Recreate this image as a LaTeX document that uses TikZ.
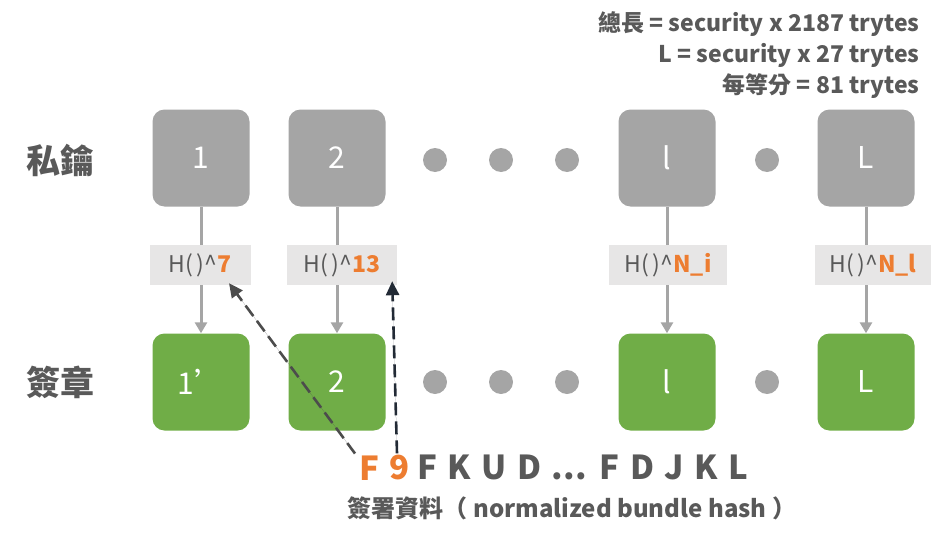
\documentclass[tikz,border=0pt]{standalone}
\usepackage{fontspec}
\setmainfont{Noto Sans CJK TC}
\usetikzlibrary{arrows.meta}
\definecolor{keygray}{HTML}{A5A5A5}
\definecolor{siggreen}{HTML}{70AD47}
\definecolor{txtgray}{HTML}{595959}
\definecolor{hashorange}{HTML}{ED7D31}
\definecolor{hashbg}{HTML}{E7E6E6}
\definecolor{navy}{HTML}{222A35}
\newcommand\KeyColumn[7]{
  \node[keybox] (key#1) at (#2,158) {#3};
  \node[sigbox] (sig#1) at (#2,382) {#4};
  \node[hashbox,minimum width=#7] (hash#1) at (#5,265) {H(\,)\textasciicircum{\color{hashorange}\bfseries #6}};
  \draw[flow] (key#1.south) -- (key#1.south |- hash#1.north);
  \draw[flow,-{Triangle[length=11pt,width=12pt]}] (hash#1.south -| key#1.south) -- (sig#1.north);
}
\tikzset{
  keybox/.style={rectangle,rounded corners=12pt,fill=keygray,text=white,minimum size=97pt,inner sep=0pt,font=\fontsize{30}{30}\selectfont},
  sigbox/.style={keybox,fill=siggreen},
  hashbox/.style={rectangle,fill=hashbg,text=txtgray,minimum height=40pt,inner xsep=8pt,font=\fontsize{23}{23}\selectfont},
  flow/.style={draw=keygray,line width=3pt},
  dot/.style={circle,fill=keygray,minimum size=24pt,inner sep=0pt},
  rowlabel/.style={text=txtgray,font=\fontsize{34}{34}\selectfont\bfseries},
  hashchar/.style={text=hashorange,inner sep=0pt,font=\fontsize{33}{33}\selectfont\bfseries},
  pointer/.style={line width=2.6pt,dash pattern=on 13pt off 6pt,-{Triangle[length=14pt,width=13pt]}},
}
\begin{document}
\begin{tikzpicture}[x=1pt,y=-1pt]
  \useasboundingbox (0,0) rectangle (935,538);
  \node[rowlabel] (keylabel) at (61,160) {私鑰};
  \node[rowlabel] (siglabel) at (61,382) {簽章};
  \node[anchor=north east,align=right,text=txtgray,font=\fontsize{23}{31}\selectfont\bfseries] (sizes) at (923,8)
    {總長 = security x 2187 trytes\\L = security x 27 trytes\\每等分 = 81 trytes};
  \KeyColumn{1}{201}{1}{1’}{200}{7}{101pt}
  \KeyColumn{2}{337}{2}{2}{342}{13}{110pt}
  \KeyColumn{3}{667}{l}{l}{668}{N\_i}{118pt}
  \KeyColumn{4}{866}{L}{L}{873}{N\_l}{116pt}
  \foreach \dx [count=\i] in {435,501,567,767} {
    \node[dot] (kdot\i) at (\dx,160) {};
    \node[dot] (sdot\i) at (\dx,382) {};
  }
  \node[hashchar] (hashF) at (369,468) {F};
  \node[hashchar] (hash9) at (400,468) {9};
  \node[hashchar,anchor=base west,text=txtgray] (hashrest) at ([xshift=7pt]hash9.base east)
    {\spaceskip=10.5pt F K U D ... F D J K L};
  \node[text=txtgray,font=\fontsize{24}{24}\selectfont\bfseries] (hashname) at (572,508) {簽署資料（ normalized bundle hash ）};
  \draw[pointer,draw=txtgray!85!black,fill=txtgray!85!black] ([xshift=-14pt,yshift=2pt]hashF.north) -- ([xshift=29pt,yshift=2pt]hash1.south);
  \draw[pointer,draw=navy,fill=navy] ([xshift=-3pt,yshift=2pt]hash9.north) -- ([xshift=-5pt,yshift=4pt]hash2.south east);
\end{tikzpicture}
\end{document}
